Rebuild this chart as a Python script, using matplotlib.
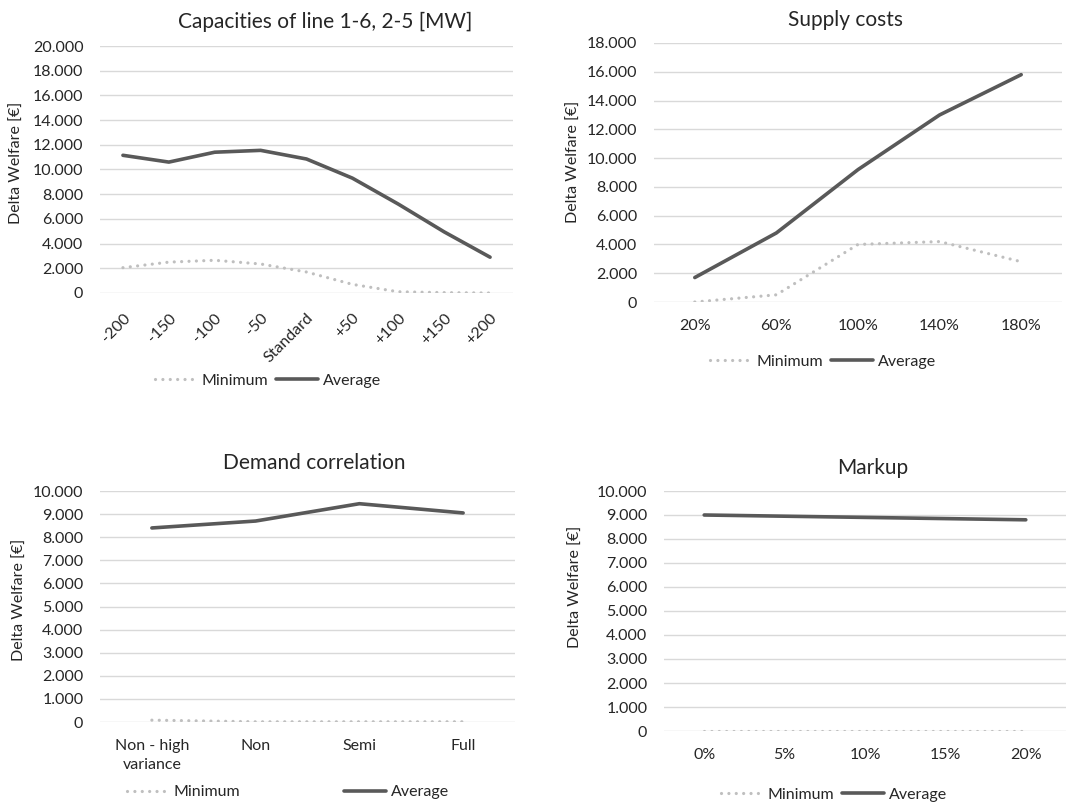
import matplotlib
matplotlib.use("Agg")
import matplotlib.pyplot as plt
from matplotlib.ticker import FuncFormatter, MultipleLocator

plt.rcParams['font.family'] = ['Lato', 'DejaVu Sans']

# ---- data ----
cap_cats = ["-200", "-150", "-100", "-50", "Standard", "+50", "+100", "+150", "+200"]
cap_min = [2050, 2500, 2650, 2350, 1700, 700, 100, 30, 0]
cap_avg = [11150, 10600, 11400, 11550, 10850, 9300, 7200, 4950, 2900]

sup_cats = ["20%", "60%", "100%", "140%", "180%"]
sup_min = [0, 500, 4000, 4200, 2800]
sup_avg = [1700, 4800, 9200, 13000, 15800]

dem_cats = ["Non - high\nvariance", "Non", "Semi", "Full"]
dem_min = [80, 10, 10, 10]
dem_avg = [8400, 8700, 9450, 9050]

mk_cats = ["0%", "5%", "10%", "15%", "20%"]
mk_min = [0, 0, 0, 0, 0]
mk_avg = [9000, 8950, 8900, 8850, 8800]

W, H = 1072, 805
fig = plt.figure(figsize=(W / 100, H / 100), dpi=100)

AVG_C = "#595959"
MIN_C = "#BFBFBF"
GRID_C = "#D9D9D9"
TXT_C = "#262626"
FS = 11.5

fmt = FuncFormatter(lambda v, p: f"{int(round(v)):,}".replace(",", "."))


def px_ax(x0, x1, ytop, ybot):
    return fig.add_axes([x0 / W, 1 - ybot / H, (x1 - x0) / W, (ybot - ytop) / H])


def setup(ax, cats, mn, av, ymax, step, title, tpos, ylpos, legpos, colsp=1.0, rot=False):
    x = list(range(len(cats)))
    ax.plot(x, mn, color=MIN_C, lw=2.3, linestyle=(0, (0.01, 2.3)),
            dash_capstyle='round', label="Minimum", zorder=3)
    ax.plot(x, av, color=AVG_C, lw=2.6, label="Average", zorder=4,
            solid_capstyle='round')
    ax.set_xlim(-0.5, len(cats) - 0.5)
    ax.set_ylim(0, ymax)
    ax.yaxis.set_major_locator(MultipleLocator(step))
    ax.yaxis.set_major_formatter(fmt)
    ax.grid(axis='y', color=GRID_C, lw=1.0)
    ax.set_axisbelow(True)
    for s in ax.spines.values():
        s.set_visible(False)
    ax.tick_params(length=0, labelsize=FS, colors=TXT_C)
    ax.tick_params(axis='y', pad=12)
    ax.set_xticks(x)
    if rot:
        ax.set_xticklabels(cats, rotation=45, ha='right', rotation_mode='anchor')
        ax.tick_params(axis='x', pad=13)
    else:
        ax.set_xticklabels(cats, linespacing=1.45)
        ax.tick_params(axis='x', pad=12)
    fig.text(tpos[0] / W, 1 - tpos[1] / H, title, ha='center', va='center',
             fontsize=15, color=TXT_C)
    fig.text(ylpos[0] / W, 1 - ylpos[1] / H, "Delta Welfare [€]", rotation=90,
             ha='center', va='center', fontsize=FS, color=TXT_C)
    ax.legend(loc='center', bbox_to_anchor=(legpos[0] / W, 1 - legpos[1] / H),
              bbox_transform=fig.transFigure, ncol=2, frameon=False,
              fontsize=FS, handlelength=2.6, handletextpad=0.3,
              columnspacing=colsp, labelcolor=TXT_C)


ax1 = px_ax(100, 513, 46, 293)
setup(ax1, cap_cats, cap_min, cap_avg, 20000, 2000,
      "Capacities of line 1-6, 2-5 [MW]", (325, 22), (17, 163), (268, 381),
      colsp=0.5, rot=True)

ax2 = px_ax(654, 1062, 43, 302)
setup(ax2, sup_cats, sup_min, sup_avg, 18000, 2000,
      "Supply costs", (846, 20), (574, 162), (823, 362), colsp=0.5)

ax3 = px_ax(100, 515, 491, 722)
setup(ax3, dem_cats, dem_min, dem_avg, 10000, 1000,
      "Demand correlation", (314, 463), (20, 600), (288, 792), colsp=6.5)

ax4 = px_ax(664, 1066, 491, 731)
setup(ax4, mk_cats, mk_min, mk_avg, 10000, 1000,
      "Markup", (873, 468), (576, 587), (834, 795), colsp=0.5)

fig.savefig("out.png", dpi=100)
